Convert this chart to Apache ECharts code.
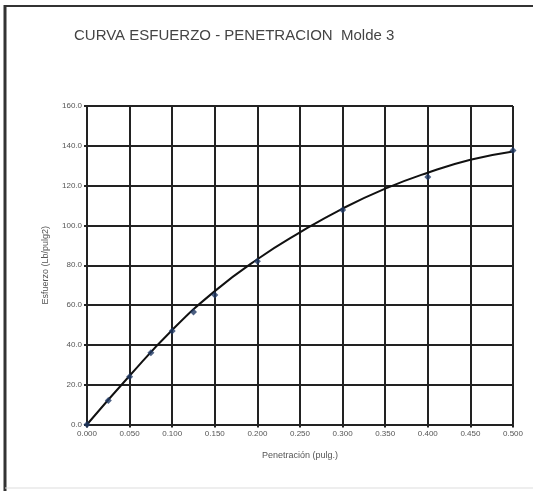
<!DOCTYPE html>
<html>
<head>
<meta charset="utf-8">
<script src="https://cdn.jsdelivr.net/npm/echarts@6/dist/echarts.min.js"></script>
<style>
  html, body { margin: 0; padding: 0; background: #fff; }
  #chart { width: 533px; height: 491px; }
</style>
</head>
<body>
<div id="chart"></div>
<script>
// penetration (pulg) of each lab reading, and the stress
var penetration = [0, 0.025, 0.05, 0.075, 0.1, 0.125, 0.15, 0.2, 0.3, 0.4, 0.5];
var stress = [0, 12, 24, 36, 47, 56.5, 65, 82, 107.7, 124.3, 137.6];

// fitted curve as it is drawn on the chart, read every 0.05
var curveX = [0, 0.05, 0.1, 0.15, 0.2, 0.25, 0.3, 0.35, 0.4, 0.45, 0.5];
var curveY = [0, 24.5, 47.5, 67, 83, 96.5, 108.5, 118.5, 126.5, 133, 137.2];

var titleText = "CURVA ESFUERZO - PENETRACION  Molde 3";
var xName = "Penetración (pulg.)";
var yName = "Esfuerzo (Lb/pulg2)";

function pairs(xs, ys) {
  var out = [];
  for (var i = 0; i < xs.length; i++) out.push([xs[i], ys[i]]);
  return out;
}

var chart = echarts.init(document.getElementById("chart"), null, { renderer: "canvas" });

var gridLine = { show: true, lineStyle: { color: "#222", width: 2 } };

chart.setOption({
  animation: false,
  backgroundColor: "#fff",
  title: {
    text: titleText,
    left: 69,
    top: 23,
    textStyle: { fontFamily: "Liberation Sans", fontSize: 15, fontWeight: "normal", color: "#444" }
  },
  grid: { left: 87, right: 20, top: 106, bottom: 66.5 },
  xAxis: {
    type: "value",
    min: 0,
    max: 0.5,
    interval: 0.05,
    name: xName,
    nameLocation: "middle",
    nameGap: 27,
    nameTextStyle: { fontFamily: "Liberation Sans", fontSize: 9, color: "#555" },
    axisLine: { show: true, lineStyle: { color: "#222", width: 2 } },
    axisTick: { show: true, length: 3, lineStyle: { color: "#222", width: 2 } },
    axisLabel: {
      margin: 5,
      fontFamily: "Liberation Sans",
      fontSize: 8,
      color: "#555",
      formatter: function (v) { return v.toFixed(3); }
    },
    splitLine: gridLine
  },
  yAxis: {
    type: "value",
    min: 0,
    max: 160,
    interval: 20,
    name: yName,
    nameLocation: "middle",
    nameGap: 37,
    nameTextStyle: { fontFamily: "Liberation Sans", fontSize: 9, color: "#555" },
    axisLine: { show: true, lineStyle: { color: "#222", width: 2 } },
    axisTick: { show: true, length: 3, lineStyle: { color: "#222", width: 2 } },
    axisLabel: {
      margin: 5,
      fontFamily: "Liberation Sans",
      fontSize: 8,
      color: "#555",
      formatter: function (v) { return v.toFixed(1); }
    },
    splitLine: gridLine
  },
  series: [
    {
      name: "curva",
      type: "line",
      smooth: true,
      showSymbol: false,
      data: pairs(curveX, curveY),
      lineStyle: { color: "#111", width: 2 },
      z: 3
    },
    {
      name: "ensayo",
      type: "scatter",
      symbol: "diamond",
      symbolSize: 7,
      data: pairs(penetration, stress),
      itemStyle: { color: "#1f3864" },
      z: 4
    }
  ],
  graphic: [
    { type: "line", shape: { x1: 5, y1: 5, x2: 5, y2: 491 }, style: { stroke: "#333", lineWidth: 3 } },
    { type: "line", shape: { x1: 4, y1: 6, x2: 533, y2: 6 }, style: { stroke: "#333", lineWidth: 2 } },
    { type: "line", shape: { x1: 5, y1: 488, x2: 533, y2: 488 }, style: { stroke: "#ddd", lineWidth: 1 } }
  ]
});
</script>
</body>
</html>
